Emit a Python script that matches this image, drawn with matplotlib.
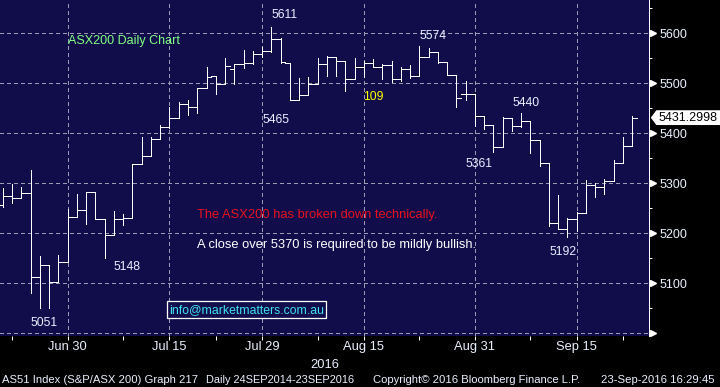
import matplotlib
matplotlib.use('Agg')
import matplotlib.pyplot as plt
import numpy as np
import pandas as pd
from matplotlib.patches import Polygon
from matplotlib.transforms import blended_transform_factory, IdentityTransform

plt.rcParams['font.family'] = ['Liberation Sans', 'DejaVu Sans']

# ---------------- data ----------------
dates = pd.bdate_range('2016-06-21', '2016-09-23')

opens = [5256.6, 5274.6, 5270.0, 5280.0, 5112.0, 5136.0, 5102.0, 5142.0, 5232.0, 5246.0,
         5282.0, 5228.0, 5196.0, 5228.0, 5230.0, 5338.0, 5354.0, 5388.0, 5412.0, 5430.0,
         5458.0, 5452.0, 5490.0, 5514.0, 5498.0, 5529.3, 5538.6, 5540.0, 5558.6, 5564.0,
         5588.6, 5540.0, 5466.6, 5476.0, 5498.0, 5538.6, 5553.0, 5544.0, 5508.0, 5532.0,
         5541.3, 5532.0, 5536.6, 5508.0, 5528.0, 5515.0, 5553.3, 5562.0, 5542.0, 5516.6,
         5478.0, 5478.0, 5434.0, 5416.6, 5372.0, 5430.0, 5414.0, 5424.0, 5386.0, 5340.0,
         5220.0, 5208.0, 5228.6, 5240.0, 5296.0, 5293.0, 5304.6, 5340.0, 5374.0]
highs = [5290.0, 5298.6, 5292.0, 5326.6, 5154.6, 5136.0, 5156.6, 5248.0, 5278.6, 5282.0,
         5282.0, 5228.0, 5244.6, 5239.0, 5338.0, 5392.0, 5392.0, 5416.0, 5452.0, 5462.0,
         5466.6, 5490.0, 5533.0, 5514.6, 5550.6, 5538.6, 5566.6, 5564.6, 5573.0, 5613.3,
         5590.0, 5540.0, 5510.0, 5512.6, 5550.0, 5554.6, 5553.0, 5544.0, 5551.0, 5544.6,
         5548.6, 5538.0, 5545.0, 5533.0, 5536.6, 5574.6, 5570.0, 5563.0, 5542.0, 5516.6,
         5504.0, 5478.0, 5434.0, 5416.6, 5432.0, 5430.0, 5441.3, 5424.0, 5386.0, 5340.0,
         5276.6, 5230.0, 5242.0, 5306.6, 5301.0, 5308.0, 5346.6, 5392.0, 5434.6]
lows = [5253.3, 5260.0, 5270.0, 5081.3, 5051.3, 5051.0, 5102.0, 5142.0, 5232.0, 5219.3,
        5228.0, 5150.0, 5196.0, 5217.3, 5230.0, 5338.0, 5354.0, 5388.0, 5410.0, 5430.0,
        5436.0, 5441.0, 5490.0, 5479.0, 5498.0, 5499.0, 5531.3, 5539.3, 5552.0, 5563.3,
        5541.3, 5466.6, 5466.6, 5476.0, 5498.0, 5514.6, 5514.6, 5485.3, 5508.0, 5512.0,
        5532.0, 5508.6, 5503.0, 5505.0, 5511.0, 5515.0, 5553.0, 5541.0, 5516.6, 5453.0,
        5466.6, 5414.0, 5408.0, 5362.0, 5372.0, 5405.0, 5412.0, 5360.0, 5334.6, 5214.6,
        5208.0, 5193.3, 5205.0, 5240.0, 5273.0, 5278.0, 5304.6, 5340.0, 5374.0]
closes = [5274.6, 5270.0, 5280.0, 5112.0, 5136.0, 5102.0, 5142.0, 5232.0, 5246.0, 5282.0,
          5228.0, 5196.0, 5228.0, 5230.0, 5338.0, 5354.0, 5388.0, 5412.0, 5430.0, 5458.0,
          5452.0, 5490.0, 5512.0, 5498.0, 5534.0, 5538.6, 5540.0, 5558.6, 5564.0, 5588.6,
          5542.0, 5466.6, 5476.0, 5498.0, 5538.6, 5553.0, 5544.0, 5508.0, 5532.0, 5541.3,
          5532.0, 5536.6, 5508.0, 5528.0, 5515.0, 5553.3, 5562.0, 5542.0, 5516.6, 5470.0,
          5478.0, 5434.0, 5416.6, 5372.0, 5430.0, 5414.0, 5424.0, 5386.0, 5340.0, 5220.0,
          5208.0, 5228.6, 5240.0, 5296.0, 5293.0, 5304.6, 5340.0, 5374.0, 5431.3]

major_tick_dates = ['2016-06-30', '2016-07-15', '2016-07-29', '2016-08-15', '2016-08-31', '2016-09-15']
major_tick_labels = ['Jun 30', 'Jul 15', 'Jul 29', 'Aug 15', 'Aug 31', 'Sep 15']
minor_tick_dates = ['2016-06-22', '2016-07-08', '2016-07-22', '2016-08-08', '2016-08-23', '2016-09-08', '2016-09-22']
y_major = [5000, 5100, 5200, 5300, 5400, 5500, 5600]
y_labels = ['', '5100', '5200', '5300', '5400', '5500', '5600']
y_minor = [5050, 5150, 5250, 5350, 5450, 5550, 5650]
last_price = 5431.2998

# annotations: (text, bar position, value at baseline, colour)
point_labels = [('5611', 30.48, 5630.0), ('5465', 29.53, 5420.0), ('5574', 46.47, 5588.0),
                ('5361', 51.42, 5332.0), ('5440', 56.54, 5455.2), ('5192', 60.52, 5156.6),
                ('5148', 13.41, 5126.6), ('5051', 4.41, 5014.6)]

# ---------------- figure ----------------
NAVY = '#100d4a'
LABEL = '#eaf0ff'
GRID = '#9a9ab0'

fig = plt.figure(figsize=(7.2, 3.87), dpi=100, facecolor='black')
ax = fig.add_axes([0, 1 - 335.7 / 387, 649.3 / 720, 335.7 / 387])
ax.set_facecolor(NAVY)

x = np.arange(len(dates))
date_pos = {d.strftime('%Y-%m-%d'): i for i, d in enumerate(dates)}

ax.set_xlim(-0.313, 69.843)
ax.set_ylim(4995.2, 5666.6)

# OHLC bars
lw = 0.72
ax.vlines(x, lows, highs, color='white', lw=lw, antialiased=False, zorder=3)
ax.hlines(opens, x - 0.5, x, color='white', lw=lw, antialiased=False, zorder=3)
ax.hlines(closes, x, x + 0.5, color='white', lw=lw, antialiased=False, zorder=3)

# ticks
ax.set_xticks([date_pos[d] for d in major_tick_dates])
ax.set_xticklabels(major_tick_labels)
ax.set_xticks([date_pos[d] for d in minor_tick_dates], minor=True)
ax.tick_params(axis='x', which='both', direction='out', length=2.9, width=0.72,
               color='white', pad=1.0, labelcolor=LABEL, labelsize=9.3)

ax.yaxis.tick_right()
ax.set_yticks(y_major)
ax.set_yticklabels(y_labels)
ax.set_yticks(y_minor, minor=True)
ax.tick_params(axis='y', which='major', length=0, pad=7.0, labelcolor=LABEL, labelsize=9)
ax.tick_params(axis='y', which='minor', length=2.4, width=0.72, color='white', direction='out')

# triangles on right axis
tri_tr = blended_transform_factory(ax.transAxes, ax.transData)
ax.plot([1 + 3.6 / 649.3] * len(y_major), y_major, ls='none', marker='>', ms=4.6,
        color='white', transform=tri_tr, clip_on=False, zorder=5)

# grid
ax.grid(True, which='major', color=GRID, lw=0.72, ls=(0, (3, 3)), antialiased=False)
ax.set_axisbelow(True)

for s in ['top', 'left', 'bottom']:
    ax.spines[s].set_visible(False)
ax.spines['right'].set_color('white')
ax.spines['right'].set_linewidth(0.72)

# annotations
for txt, xi, yv in point_labels:
    ax.text(xi, yv, txt, color=LABEL, fontsize=8.7, ha='center', va='baseline', zorder=4)
ax.text(40.06, 5466.6, '109', color='#ffff00', fontsize=8.7, ha='center', va='baseline', zorder=4)
ax.text(7.0, 5578.6, 'ASX200 Daily Chart', color='#80ff80', fontsize=9, ha='left', va='baseline')
ax.text(20.94, 5230.0, 'The ASX200 has broken down technically.', color='#e8101c',
        fontsize=9.3, ha='left', va='baseline')
ax.text(20.94, 5170.0, 'A close over 5370 is required to be mildly bullish.', color='white',
        fontsize=9.3, ha='left', va='baseline')
ax.text(17.95, 5041.4, 'info@marketmatters.com.au', color='#40e0f0', fontsize=8.8,
        ha='left', va='baseline',
        bbox=dict(boxstyle='square,pad=0.2', fc=NAVY, ec='white', lw=0.9))

# last price tag
fig.canvas.draw()
yc = ax.transData.transform((0, last_price))[1]
xl = 651.7
tag = Polygon([(xl, yc), (xl + 5, yc + 6.7), (720, yc + 6.7), (720, yc - 6.7), (xl + 5, yc - 6.7)],
              closed=True, fc='white', ec='white', transform=IdentityTransform(), zorder=10)
fig.add_artist(tag)
fig.text(658.3 / 720, yc / 387, f'{last_price:.4f}', color='black', fontsize=9,
         ha='left', va='center', zorder=11)

# year label and footer
fig.text(325 / 720, 1 - 367.7 / 387, '2016', color=LABEL, fontsize=9.3, ha='center', va='baseline')
fy = 1 - 383 / 387
fig.text(2 / 720, fy, 'AS51 Index (S&P/ASX 200) Graph 217', color=LABEL, fontsize=8.1,
         ha='left', va='baseline')
fig.text(206 / 720, fy, 'Daily 24SEP2014-23SEP2016', color=LABEL, fontsize=7.9,
         ha='left', va='baseline')
fig.text(373.3 / 720, fy, 'Copyright\u00a9 2016 Bloomberg Finance L.P.', color=LABEL, fontsize=8.1,
         ha='left', va='baseline')
fig.text(601 / 720, fy, '23-Sep-2016 16:29:45', color=LABEL, fontsize=8.2,
         ha='left', va='baseline')

fig.savefig('out.png', dpi=100, facecolor='black')
